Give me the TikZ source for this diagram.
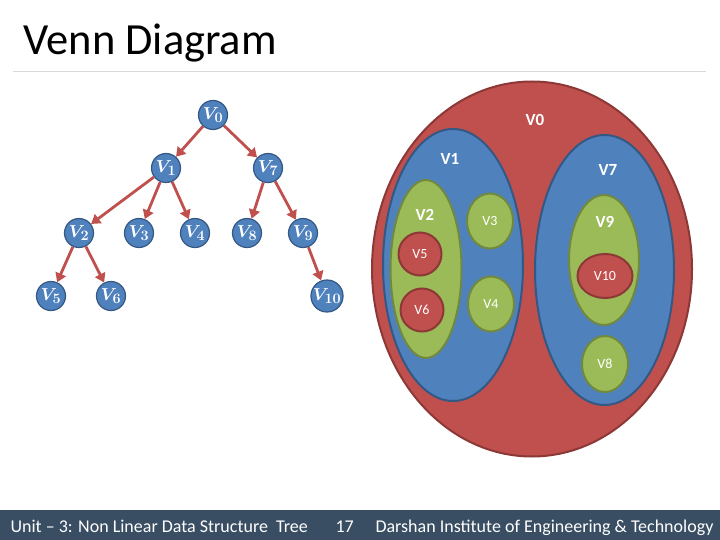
\documentclass[tikz,border=0pt]{standalone}
\usepackage{fontspec}
\setmainfont{Carlito}
\usetikzlibrary{arrows.meta,shapes.geometric}
\definecolor{setred}{RGB}{192,80,77}
\definecolor{setredline}{RGB}{140,56,54}
\definecolor{setblue}{RGB}{79,129,189}
\definecolor{setblueline}{RGB}{52,88,132}
\definecolor{setgreen}{RGB}{155,187,89}
\definecolor{setgreenline}{RGB}{113,137,63}
\definecolor{footbar}{RGB}{57,77,99}
\tikzset{
  vertex/.style={circle, fill=setblue, draw=setblueline, line width=1.2pt, minimum size=29pt, inner sep=0pt, text=white, font=\fontsize{19}{19}\selectfont\boldmath},
  edge/.style={draw=setred, line width=2.8pt, -{Triangle[length=9pt,width=11pt]}},
  redset/.style={ellipse, fill=setred, draw=setredline, line width=2pt, inner sep=0pt, text=white, font=\fontsize{14}{14}\selectfont},
  blueset/.style={ellipse, fill=setblue, draw=setblueline, line width=2pt, inner sep=0pt},
  greenset/.style={ellipse, fill=setgreen, draw=setgreenline, line width=2pt, inner sep=0pt, text=white, font=\fontsize{14}{14}\selectfont},
  setlabel/.style={text=white, font=\fontsize{17}{17}\selectfont\bfseries},
  foottext/.style={text=white, anchor=base west, font=\fontsize{18}{18}\selectfont},
}
\begin{document}
\begin{tikzpicture}[x=1pt, y=-1pt]
\useasboundingbox (0,0) rectangle (720,540);
\node[anchor=base west, font=\fontsize{44.5}{44.5}\selectfont] (title) at (20,55) {Venn Diagram};
\draw[black!15, line width=1pt] (13,72) -- (706,72);
\node[vertex] (v0) at (213,115) {$V_0$};
\node[vertex] (v1) at (166,168) {$V_1$};
\node[vertex] (v7) at (268,168) {$V_7$};
\node[vertex] (v2) at (79,233) {$V_2$};
\node[vertex] (v3) at (139,233) {$V_3$};
\node[vertex] (v4) at (195,233) {$V_4$};
\node[vertex] (v8) at (247,233) {$V_8$};
\node[vertex] (v9) at (303,233) {$V_9$};
\node[vertex] (v5) at (51,296) {$V_5$};
\node[vertex] (v6) at (111,296) {$V_6$};
\node[vertex] (v10) at (327,296) {$V_{10}$};
\draw[edge] (v0) -- (v1);
\draw[edge] (v0) -- (v7);
\draw[edge] (v1) -- (v2);
\draw[edge] (v1) -- (v3);
\draw[edge] (v1) -- (v4);
\draw[edge] (v7) -- (v8);
\draw[edge] (v7) -- (v9);
\draw[edge] (v2) -- (v5);
\draw[edge] (v2) -- (v6);
\draw[edge] (v9) -- (v10);
\node[redset, minimum width=320pt, minimum height=375pt] (setv0) at (532,269) {};
\node[blueset, minimum width=140pt, minimum height=272pt] (setv1) at (453,265) {};
\node[blueset, minimum width=139pt, minimum height=270pt] (setv7) at (604.5,270) {};
\node[greenset, minimum width=71pt, minimum height=178pt] (setv2) at (426,269) {};
\node[greenset, minimum width=46pt, minimum height=55pt] (setv3) at (490,221) {V3};
\node[greenset, minimum width=46pt, minimum height=55pt] (setv4) at (491,304) {V4};
\node[greenset, minimum width=70pt, minimum height=130pt] (setv9) at (604,260) {};
\node[greenset, minimum width=46pt, minimum height=56pt] (setv8) at (605,364) {V8};
\node[redset, minimum width=43pt, minimum height=43pt] (setv5) at (420,254) {V5};
\node[redset, minimum width=43pt, minimum height=43pt] (setv6) at (422,310) {V6};
\node[redset, minimum width=55pt, minimum height=44pt] (setv10) at (605,276) {V10};
\node[setlabel] (lv0) at (535,120) {V0};
\node[setlabel] (lv1) at (450,159) {V1};
\node[setlabel] (lv7) at (608,170) {V7};
\node[setlabel] (lv2) at (425,215) {V2};
\node[setlabel] (lv9) at (605,222) {V9};
\fill[footbar] (0,510) rectangle (720,540);
\node[foottext] (unit) at (7,532) {Unit -- 3: Non Linear Data Structure\ \ Tree};
\node[foottext] (page) at (332,532) {17};
\node[foottext] (inst) at (372,532) {Darshan Institute of Engineering \& Technology};
\end{tikzpicture}
\end{document}
